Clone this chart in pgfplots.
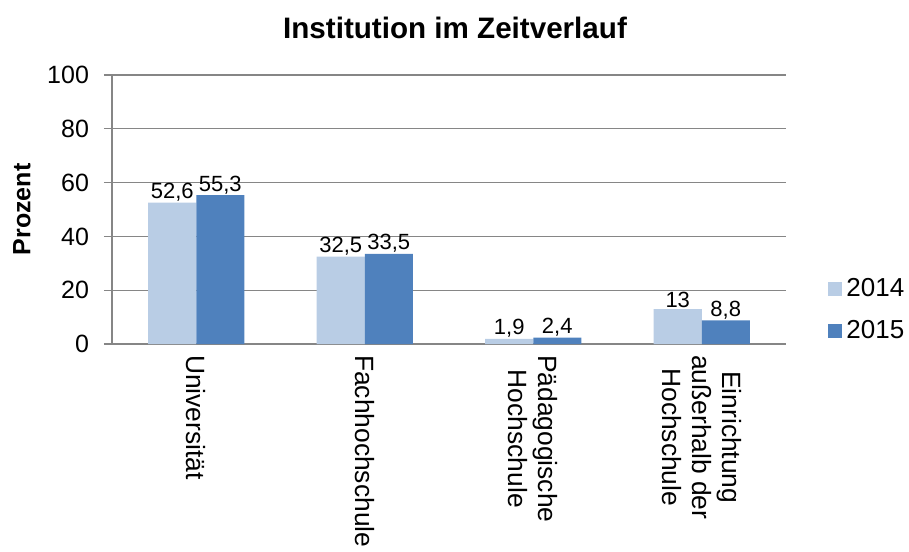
\documentclass[border=0pt]{standalone}
\usepackage{fontspec}
\setmainfont{Liberation Sans}
\usepackage{pgfplots}
\pgfplotsset{compat=1.18}
\definecolor{c14}{HTML}{B9CDE5}
\definecolor{c15}{HTML}{4F81BD}
\definecolor{gridc}{HTML}{868686}
\begin{document}
\begin{tikzpicture}
\useasboundingbox (-56pt,-103.5pt) rectangle (398.5pt,172pt);
\begin{axis}[
  scale only axis, width=337pt, height=134.5pt,
  ybar=0pt, bar width=0.285,
  xmin=-0.5, xmax=3.5, ymin=0, ymax=100,
  ytick={0,20,...,100},
  xtick={0,1,2,3},
  xticklabels={Universität, Fachhochschule, Pädagogische\\Hochschule, Einrichtung\\außerhalb der\\Hochschule},
  xtick style={draw=none},
  extra x ticks={-0.5,0.5,1.5,2.5,3.5},
  extra x tick labels={},
  extra x tick style={tick style={draw=gridc, line width=0.6pt}, major tick length=4pt, grid=none},
  axis lines*=left,
  axis line style={draw=gridc, line width=0.6pt, -},
  ymajorgrids, grid style={draw=gridc, line width=0.6pt},
  tick align=outside, major tick length=4pt,
  ytick style={draw=gridc, line width=0.6pt},
  /pgf/number format/assume math mode=true,
  /pgf/number format/use comma,
  yticklabel style={font=\fontsize{12.5}{15}\selectfont, xshift=-4pt},
  xticklabel style={font=\fontsize{13.2}{15}\selectfont, rotate=-90, anchor=west, align=center, xshift=-2pt},
  ylabel={Prozent},
  ylabel style={font=\bfseries\fontsize{12.5}{15}\selectfont, at={(axis description cs:-0.1335,0.5)}, anchor=center},
  nodes near coords,
  nodes near coords style={font=\fontsize{11}{13}\selectfont, inner sep=0.5pt, anchor=south},
  legend style={at={(1,0)}, anchor=south west, xshift=21pt, yshift=-1pt, draw=none, fill=none, inner sep=0pt,
    font=\fontsize{13}{15}\selectfont, row sep=6.5pt, legend cell align=left},
  legend image code/.code={\fill[#1] (0pt,-3.5pt) rectangle (7pt,3.5pt);},
  clip=false,
]
\addplot[fill=c14, draw=none] coordinates {(0,52.6) (1,32.5) (2,1.9) (3,13)};
\addplot[fill=c15, draw=none] coordinates {(0,55.3) (1,33.5) (2,2.4) (3,8.8)};
\legend{2014,2015}
\end{axis}
\node[font=\bfseries\fontsize{14.8}{17}\selectfont] at (171.5pt,158pt) {Institution im Zeitverlauf};
\end{tikzpicture}
\end{document}
